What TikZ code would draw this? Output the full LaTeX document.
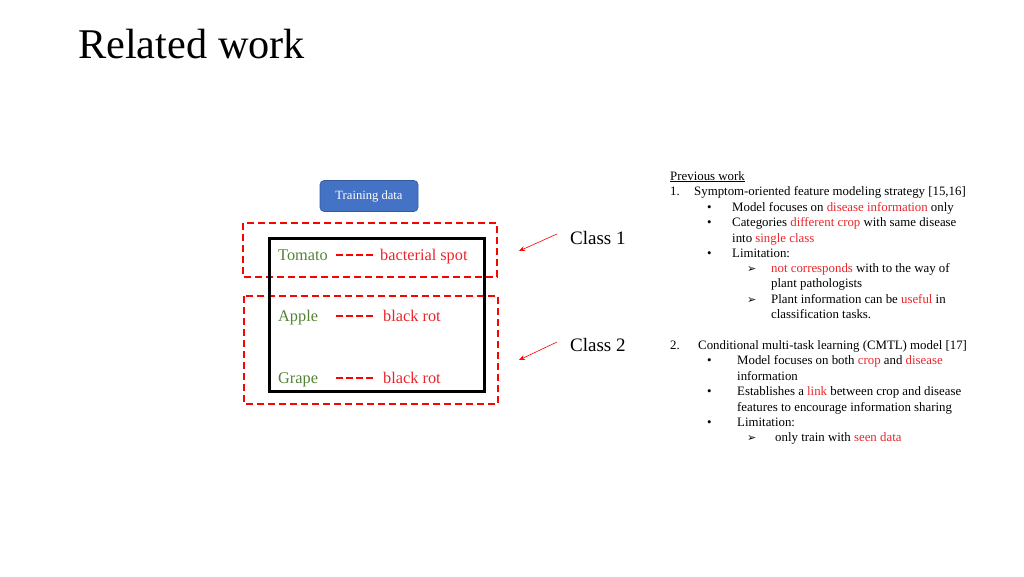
\documentclass[tikz,border=0pt]{standalone}
\usepackage{fontspec}
\setmainfont{Liberation Serif}
\newfontfamily\symfont{DejaVu Sans}
\usetikzlibrary{arrows.meta}
\definecolor{cropgreen}{HTML}{548235}
\definecolor{boxblue}{HTML}{4472C4}
\definecolor{txtred}{HTML}{E8262B}
\tikzset{
  redbox/.style={draw=red, line width=2.3pt, dash pattern=on 7pt off 4pt},
  blackbox/.style={draw=black, line width=3pt},
  crop/.style={anchor=base west, inner sep=0pt, text=cropgreen, font=\fontsize{16.3}{18}\selectfont},
  dis/.style={anchor=base west, inner sep=0pt, text=txtred, font=\fontsize{16.3}{18}\selectfont},
  link/.style={draw=red, line width=2.8pt, dash pattern=on 7pt off 3pt},
  cls/.style={anchor=base west, inner sep=0pt, font=\fontsize{19}{21}\selectfont},
  pointer/.style={draw=red, line width=0.6pt, -{Stealth[length=6pt,width=5pt]}},
  rt/.style={anchor=base west, inner sep=0pt, font=\fontsize{12.85}{14}\selectfont},
}
\newcommand{\rd}[1]{\textcolor{txtred}{#1}}
\newcommand{\arr}{{\symfont\fontsize{11}{12}\selectfont ➢}}
\begin{document}
\begin{tikzpicture}[x=1pt,y=-1pt]
\useasboundingbox (0,0) rectangle (1024,576);
% title
\node[anchor=base west, inner sep=0pt, font=\fontsize{42.3}{46}\selectfont] (title) at (78,58) {Related work};
% training data
\node[draw=boxblue!80!black, line width=0.6pt, fill=boxblue, rounded corners=4pt, minimum width=98pt, minimum height=31pt, text=white, font=\fontsize{12.6}{14}\selectfont, inner sep=0pt] (train) at (369,196) {\raisebox{-1pt}{Training data}};
% boxes
\draw[redbox] (243,223) rectangle (497,277);
\draw[redbox] (244,296) rectangle (498,404);
\draw[blackbox] (269,238) rectangle (484,391);
% rows
\node[crop] (tomato) at (278,260) {Tomato};
\coordinate (d1a) at (336,255); \coordinate (d1b) at (373,255);
\draw[link] (d1a) -- (d1b);
\node[dis] (bspot) at (380,260) {bacterial spot};
\node[crop] (apple) at (278,321) {Apple};
\coordinate (d2a) at (336,316); \coordinate (d2b) at (373,316);
\draw[link] (d2a) -- (d2b);
\node[dis] (brot1) at (383,321) {black rot};
\node[crop] (grape) at (278,383) {Grape};
\coordinate (d3a) at (336,378); \coordinate (d3b) at (373,378);
\draw[link] (d3a) -- (d3b);
\node[dis] (brot2) at (383,383) {black rot};
% classes
\node[cls] (c1) at (570,244) {Class 1};
\node[cls] (c2) at (570,351) {Class 2};
\coordinate (a1s) at (557,234); \coordinate (a1e) at (519,251);
\coordinate (a2s) at (557,342); \coordinate (a2e) at (519,360);
\draw[pointer] (a1s) -- (a1e);
\draw[pointer] (a2s) -- (a2e);
% right text
\node[rt] (pw) at (670,180) {\underline{Previous work}};
\node[rt] (n1) at (670,195) {1.};
\node[rt] (l1) at (694,195) {Symptom-oriented feature modeling strategy [15,16]};
\node[rt] (b1) at (707,211) {•};
\node[rt] (l2) at (732,211) {Model focuses on \rd{disease information} only};
\node[rt] (b2) at (707,226) {•};
\node[rt] (l3) at (732,226) {Categories \rd{different crop} with same disease};
\node[rt] (l4) at (732,242) {into \rd{single class}};
\node[rt] (b3) at (707,257) {•};
\node[rt] (l5) at (732,257) {Limitation:};
\node[rt] (a1) at (747,272) {\arr};
\node[rt] (l6) at (771,272) {\rd{not corresponds} with to the way of};
\node[rt] (l7) at (771,287) {plant pathologists};
\node[rt] (a2) at (747,303) {\arr};
\node[rt] (l8) at (771,303) {Plant information can be \rd{useful} in};
\node[rt] (l9) at (771,318) {classification tasks.};
\node[rt] (n2) at (670,349) {2.};
\node[rt] (m1) at (698,349) {Conditional multi-task learning (CMTL) model [17]};
\node[rt] (b4) at (707,364) {•};
\node[rt] (m2) at (737,364) {Model focuses on both \rd{crop} and \rd{disease}};
\node[rt] (m3) at (737,380) {information};
\node[rt] (b5) at (707,395) {•};
\node[rt] (m4) at (737,395) {Establishes a \rd{link} between crop and disease};
\node[rt] (m5) at (737,411) {features to encourage information sharing};
\node[rt] (b6) at (707,426) {•};
\node[rt] (m6) at (737,426) {Limitation:};
\node[rt] (a3) at (747,441) {\arr};
\node[rt] (m7) at (775,441) {only train with \rd{seen data}};
\end{tikzpicture}
\end{document}
